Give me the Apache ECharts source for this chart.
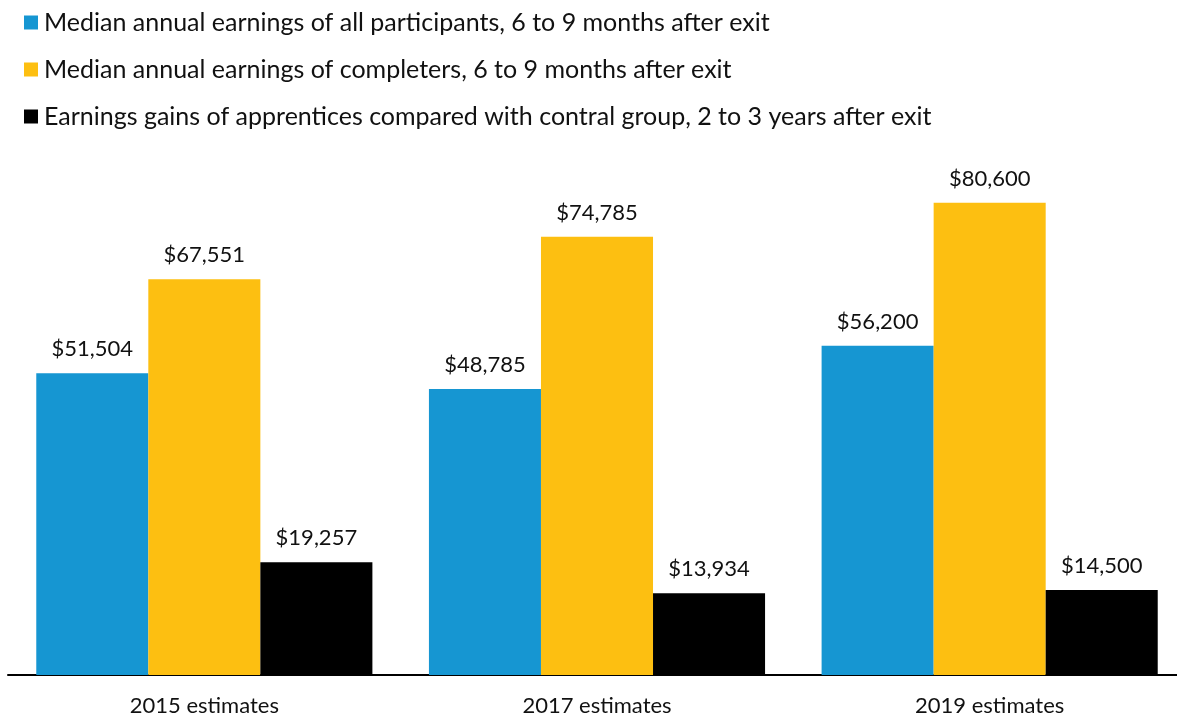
<!DOCTYPE html>
<html><head><meta charset="utf-8">
<script src="https://cdn.jsdelivr.net/npm/echarts@6/dist/echarts.min.js"></script>
<style>html,body{margin:0;padding:0;background:#fff}#c{width:1177px;height:719px}</style>
</head><body><div id="c"></div>
<script>
const categories = ['2015 estimates', '2017 estimates', '2019 estimates'];
const seriesNames = [
  'Median annual earnings of all participants, 6 to 9 months after exit',
  'Median annual earnings of completers, 6 to 9 months after exit',
  'Earnings gains of apprentices compared with contral group, 2 to 3 years after exit'
];
const allParticipants = [51504, 48785, 56200];
const completers = [67551, 74785, 80600];
const gains = [19257, 13934, 14500];
const colors = ['#1696d2', '#fdbf11', '#000000'];

const chart = echarts.init(document.getElementById('c'));
const fmt = p => '$' + p.value.toLocaleString('en-US');
const mk = (name, data, color) => ({
  name, type: 'bar', data, barGap: '0%', barCategoryGap: '14.4%',
  itemStyle: { color },
  label: { show: true, position: 'top', distance: 13, formatter: fmt,
    fontFamily: 'Lato', fontSize: 22, color: '#111' }
});
chart.setOption({
  animation: false,
  textStyle: { fontFamily: 'Lato' },
  legend: {
    orient: 'vertical', left: 19, top: 5, itemWidth: 14, itemHeight: 14, itemGap: 22,
    icon: 'rect',
    textStyle: { fontFamily: 'Lato', fontSize: 25, color: '#111', padding: [0,0,0,1] },
    data: seriesNames
  },
  grid: { left: 8, right: -9, top: 89, bottom: 44, outerBoundsMode: 'none', containLabel: false },
  xAxis: {
    type: 'category', data: categories,
    axisLine: { lineStyle: { color: '#000', width: 2 } },
    axisTick: { show: false },
    axisLabel: { fontFamily: 'Lato', fontSize: 22, color: '#111', margin: 20 }
  },
  yAxis: { type: 'value', min: 0, max: 100000, show: false, splitLine: { show: false } },
  series: [
    mk(seriesNames[0], allParticipants, colors[0]),
    mk(seriesNames[1], completers, colors[1]),
    mk(seriesNames[2], gains, colors[2])
  ]
});
</script></body></html>
